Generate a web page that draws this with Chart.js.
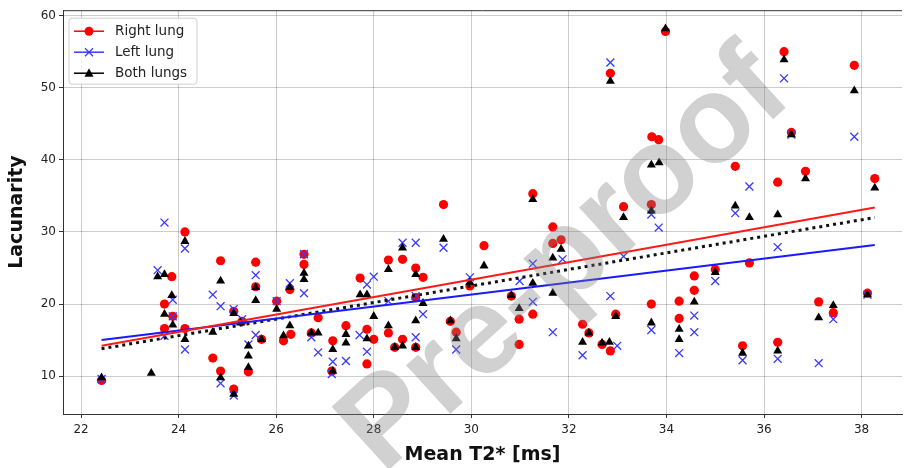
<!DOCTYPE html>
<html>
<head>
<meta charset="utf-8">
<script src="https://cdn.jsdelivr.net/npm/chart.js@4.4.1/dist/chart.umd.min.js"></script>
<style>
  html, body { margin: 0; padding: 0; background: #fff; }
  #wrap { width: 909px; height: 468px; }
</style>
</head>
<body>
<div id="wrap"><canvas id="lacChart"></canvas></div>
<script>
// Tick labels
const xTicks = [22, 24, 26, 28, 30, 32, 34, 36, 38];
const yTicks = [10, 20, 30, 40, 50, 60];

// Right lung: mean T2* [ms] and lacunarity
const rightT2 = [22.42, 23.71, 23.71, 23.86, 23.88, 24.13, 24.13, 24.70, 24.86, 24.86,
  25.13, 25.13, 25.30, 25.43, 25.58, 25.58, 25.70, 26.01, 26.15, 26.28,
  26.30, 26.57, 26.57, 26.72, 26.86, 27.16, 27.14, 27.43, 27.72, 27.86,
  27.86, 28.00, 28.30, 28.30, 28.43, 28.59, 28.59, 28.86, 28.86, 28.86,
  29.01, 29.43, 29.57, 29.69, 29.97, 30.26, 30.82, 30.98, 30.98, 31.26,
  31.26, 31.67, 31.67, 31.84, 32.28, 32.41, 32.68, 32.85, 32.85, 32.96,
  33.12, 33.69, 33.69, 33.70, 33.84, 33.98, 34.26, 34.26, 34.57, 34.57,
  35.00, 35.41, 35.56, 35.70, 36.28, 36.28, 36.41, 36.56, 36.85, 37.12,
  37.42, 37.85, 38.12, 38.27];
const rightLac = [9.4, 20.0, 16.6, 23.8, 18.3, 30.0, 16.6, 12.5, 26.0, 10.7,
  19.0, 8.2, 17.6, 10.6, 25.8, 22.4, 15.1, 20.4, 14.9, 22.0,
  15.8, 25.5, 26.9, 16.0, 18.1, 14.9, 10.7, 17.0, 23.6, 16.5,
  11.7, 15.1, 26.1, 16.0, 14.0, 26.2, 15.1, 25.0, 20.9, 14.0,
  23.7, 33.8, 17.6, 16.1, 22.5, 28.1, 21.1, 17.9, 14.4, 35.3,
  18.6, 30.7, 28.4, 28.9, 17.2, 16.0, 14.4, 13.5, 52.0, 18.6,
  33.5, 33.8, 20.0, 43.2, 42.8, 57.8, 20.4, 18.0, 23.9, 21.9,
  24.8, 39.1, 14.2, 25.7, 36.9, 14.7, 55.0, 43.8, 38.4, 20.3,
  18.8, 53.1, 21.5, 37.4];

// Left lung
const leftT2 = [22.42, 23.57, 23.71, 23.71, 23.88, 23.88, 24.13, 24.13, 24.70, 24.86,
  24.86, 25.13, 25.13, 25.30, 25.43, 25.58, 25.58, 26.01, 26.28, 26.57,
  26.57, 26.72, 26.86, 27.14, 27.16, 27.43, 27.71, 27.86, 27.86, 28.00,
  28.30, 28.59, 28.86, 28.86, 28.86, 29.01, 29.43, 29.69, 29.97, 30.99,
  31.26, 31.26, 31.67, 31.87, 32.28, 32.85, 32.85, 32.99, 33.12, 33.69,
  33.69, 33.84, 34.26, 34.57, 34.57, 35.00, 35.41, 35.56, 35.70, 36.28,
  36.28, 36.41, 36.56, 37.12, 37.42, 37.85, 38.12];
const leftLac = [9.6, 24.7, 31.3, 15.6, 20.6, 18.3, 27.7, 13.7, 21.3, 19.7,
  9.0, 19.3, 7.3, 17.9, 14.4, 24.0, 15.7, 20.4, 22.9, 26.9,
  21.5, 15.4, 13.3, 10.3, 12.0, 12.1, 15.7, 22.7, 13.4, 23.8,
  20.4, 28.5, 28.5, 21.1, 15.4, 18.6, 27.8, 13.7, 23.7, 23.2,
  25.6, 20.3, 16.1, 26.2, 12.9, 21.1, 53.5, 14.2, 26.6, 32.4,
  16.4, 30.6, 13.2, 18.4, 16.1, 23.2, 32.6, 12.2, 36.3, 27.9,
  12.4, 51.3, 43.5, 11.8, 17.9, 43.2, 21.3];

// Both lungs
const bothT2 = [22.42, 23.44, 23.57, 23.71, 23.71, 23.86, 23.88, 24.13, 24.13, 24.70,
  24.86, 24.86, 25.13, 25.13, 25.27, 25.43, 25.43, 25.43, 25.58, 25.58,
  25.70, 26.01, 26.15, 26.28, 26.28, 26.57, 26.57, 26.72, 26.86, 27.16,
  27.16, 27.43, 27.43, 27.72, 27.86, 27.86, 28.00, 28.30, 28.30, 28.43,
  28.59, 28.59, 28.86, 28.86, 28.86, 29.01, 29.43, 29.57, 29.69, 29.97,
  30.26, 30.82, 30.98, 31.26, 31.26, 31.67, 31.67, 31.84, 32.28, 32.41,
  32.68, 32.83, 32.85, 32.96, 33.12, 33.69, 33.69, 33.69, 33.85, 33.98,
  34.26, 34.26, 34.57, 35.00, 35.41, 35.56, 35.70, 36.28, 36.28, 36.41,
  36.56, 36.85, 37.12, 37.42, 37.85, 38.12, 38.27];
const bothLac = [9.8, 10.4, 23.8, 24.1, 18.6, 21.2, 17.1, 28.7, 15.1, 16.1,
  23.2, 9.8, 18.7, 7.5, 17.4, 14.2, 12.8, 11.2, 22.3, 20.5,
  15.1, 19.3, 15.6, 22.3, 17.0, 24.3, 23.4, 16.0, 16.0, 13.7,
  10.7, 15.8, 14.6, 21.3, 21.3, 15.2, 18.3, 24.8, 17.0, 14.0,
  27.8, 14.2, 24.1, 17.7, 14.0, 20.1, 29.0, 17.7, 15.2, 23.0,
  25.3, 21.2, 19.4, 34.5, 22.9, 26.4, 21.5, 27.6, 14.7, 16.0,
  14.6, 14.7, 50.9, 18.3, 32.0, 32.9, 39.3, 17.4, 39.6, 58.2,
  16.5, 15.1, 20.3, 24.4, 33.6, 13.2, 32.0, 32.4, 13.5, 53.9,
  43.5, 37.4, 18.1, 19.8, 49.6, 21.3, 36.1];

// Regression line end points
const fitT2 = [22.42, 38.27];
const rightFit = [14.2, 33.4];
const leftFit = [15.0, 28.2];
const bothFit = [13.8, 32.0];

function zip(xs, ys) {
  return xs.map((x, i) => ({ x: x, y: ys[i] }));
}

// frame top line, legend box inside the plot and the watermark
const extras = {
  id: 'extras',
  afterDatasetsDraw(chart) {
    const ctx = chart.ctx;
    const a = chart.chartArea;
    ctx.save();
    ctx.strokeStyle = '#333';
    ctx.lineWidth = 1;
    ctx.beginPath();
    ctx.moveTo(a.left, a.top + 0.5);
    ctx.lineTo(a.right, a.top + 0.5);
    ctx.stroke();

    // legend
    const bx = a.left + 6, by = a.top + 8, bw = 128, bh = 66;
    ctx.fillStyle = 'rgba(255,255,255,0.85)';
    ctx.strokeStyle = '#d0d0d0';
    ctx.beginPath();
    ctx.roundRect(bx, by, bw, bh, 3);
    ctx.fill();
    ctx.stroke();
    ctx.font = '13.5px "DejaVu Sans"';
    ctx.textBaseline = 'middle';
    chart.data.datasets.slice(0, 3).forEach((ds, i) => {
      const y = by + 13 + i * 21;
      const x0 = bx + 5, x1 = bx + 35, xm = (x0 + x1) / 2;
      ctx.strokeStyle = ds.borderColor;
      ctx.lineWidth = 1.5;
      ctx.beginPath();
      ctx.moveTo(x0, y);
      ctx.lineTo(x1, y);
      ctx.stroke();
      ctx.fillStyle = ds.backgroundColor;
      if (ds.pointStyle === 'circle') {
        ctx.beginPath();
        ctx.arc(xm, y, 4.5, 0, Math.PI * 2);
        ctx.fill();
      } else if (ds.pointStyle === 'crossRot') {
        ctx.lineWidth = 1.3;
        ctx.beginPath();
        ctx.moveTo(xm - 4, y - 4); ctx.lineTo(xm + 4, y + 4);
        ctx.moveTo(xm - 4, y + 4); ctx.lineTo(xm + 4, y - 4);
        ctx.stroke();
      } else {
        ctx.beginPath();
        ctx.moveTo(xm, y - 5); ctx.lineTo(xm + 4.5, y + 3.5); ctx.lineTo(xm - 4.5, y + 3.5);
        ctx.closePath();
        ctx.fill();
      }
      ctx.fillStyle = '#222';
      ctx.fillText(ds.label, bx + 46, y);
    });
    ctx.restore();
  },
  afterDraw(chart) {
    const ctx = chart.ctx;
    ctx.save();
    ctx.translate(566, 262);
    ctx.rotate(-0.74);
    ctx.font = 'bold 124px "Liberation Sans"';
    ctx.textAlign = 'center';
    ctx.textBaseline = 'middle';
    ctx.fillStyle = 'rgba(128,128,128,0.36)';
    ctx.fillText('Pre-proof', 0, 0);
    ctx.restore();
  }
};

const ctx = document.getElementById('lacChart').getContext('2d');
const lacChart = new Chart(ctx, {
  type: 'scatter',
  data: {
    datasets: [
      {
        label: 'Right lung',
        data: zip(rightT2, rightLac),
        backgroundColor: '#ff0000',
        borderColor: '#ff0000',
        pointStyle: 'circle',
        pointRadius: 4.6,
        borderWidth: 0,
        order: 3
      },
      {
        label: 'Left lung',
        data: zip(leftT2, leftLac),
        backgroundColor: '#3a3aff',
        borderColor: '#3a3aff',
        pointStyle: 'crossRot',
        pointRadius: 5.6,
        borderWidth: 1.3,
        order: 2
      },
      {
        label: 'Both lungs',
        data: zip(bothT2, bothLac),
        backgroundColor: '#000000',
        borderColor: '#000000',
        pointStyle: 'triangle',
        pointRadius: 5.2,
        borderWidth: 0,
        order: 1
      },
      {
        label: 'Right fit',
        data: zip(fitT2, rightFit),
        showLine: true,
        borderColor: '#ff1a1a',
        borderWidth: 2,
        pointRadius: 0,
        order: 0
      },
      {
        label: 'Left fit',
        data: zip(fitT2, leftFit),
        showLine: true,
        borderColor: '#1a1aff',
        borderWidth: 2,
        pointRadius: 0,
        order: 0
      },
      {
        label: 'Both fit',
        data: zip(fitT2, bothFit),
        showLine: true,
        borderColor: '#111',
        borderWidth: 3,
        borderDash: [3, 4],
        pointRadius: 0,
        order: 0
      }
    ]
  },
  options: {
    responsive: true,
    maintainAspectRatio: false,
    animation: false,
    devicePixelRatio: 1,
    layout: { padding: { top: 9, right: 0, bottom: 0, left: 0 } },
    plugins: {
      legend: { display: false },
      tooltip: { enabled: false }
    },
    scales: {
      x: {
        type: 'linear',
        min: 21.63,
        max: 38.83,
        afterBuildTicks: (scale) => { scale.ticks = xTicks.map(v => ({ value: v })); },
        afterFit: (scale) => { scale.height = 54; },
        grid: { color: 'rgba(0,0,0,0.2)', tickColor: '#333', tickLength: 4 },
        border: { color: '#333', width: 1 },
        ticks: { color: '#222', padding: 5, font: { family: 'DejaVu Sans', size: 12 }, maxRotation: 0 },
        title: {
          display: true,
          text: 'Mean T2* [ms]',
          color: '#111',
          padding: { top: 0, bottom: 2 },
          font: { family: 'DejaVu Sans', size: 19, weight: 'bold' }
        }
      },
      y: {
        type: 'linear',
        min: 4.75,
        max: 60.75,
        afterBuildTicks: (scale) => { scale.ticks = yTicks.map(v => ({ value: v })); },
        afterFit: (scale) => { scale.width = 63; },
        grid: { color: 'rgba(0,0,0,0.2)', tickColor: '#333', tickLength: 4 },
        border: { color: '#333', width: 1 },
        ticks: { color: '#222', padding: 3, font: { family: 'DejaVu Sans', size: 12 } },
        title: {
          display: true,
          text: 'Lacunarity',
          color: '#111',
          padding: { top: 6, bottom: 0 },
          font: { family: 'DejaVu Sans', size: 19, weight: 'bold' }
        }
      }
    }
  },
  plugins: [extras]
});
</script>
</body>
</html>
